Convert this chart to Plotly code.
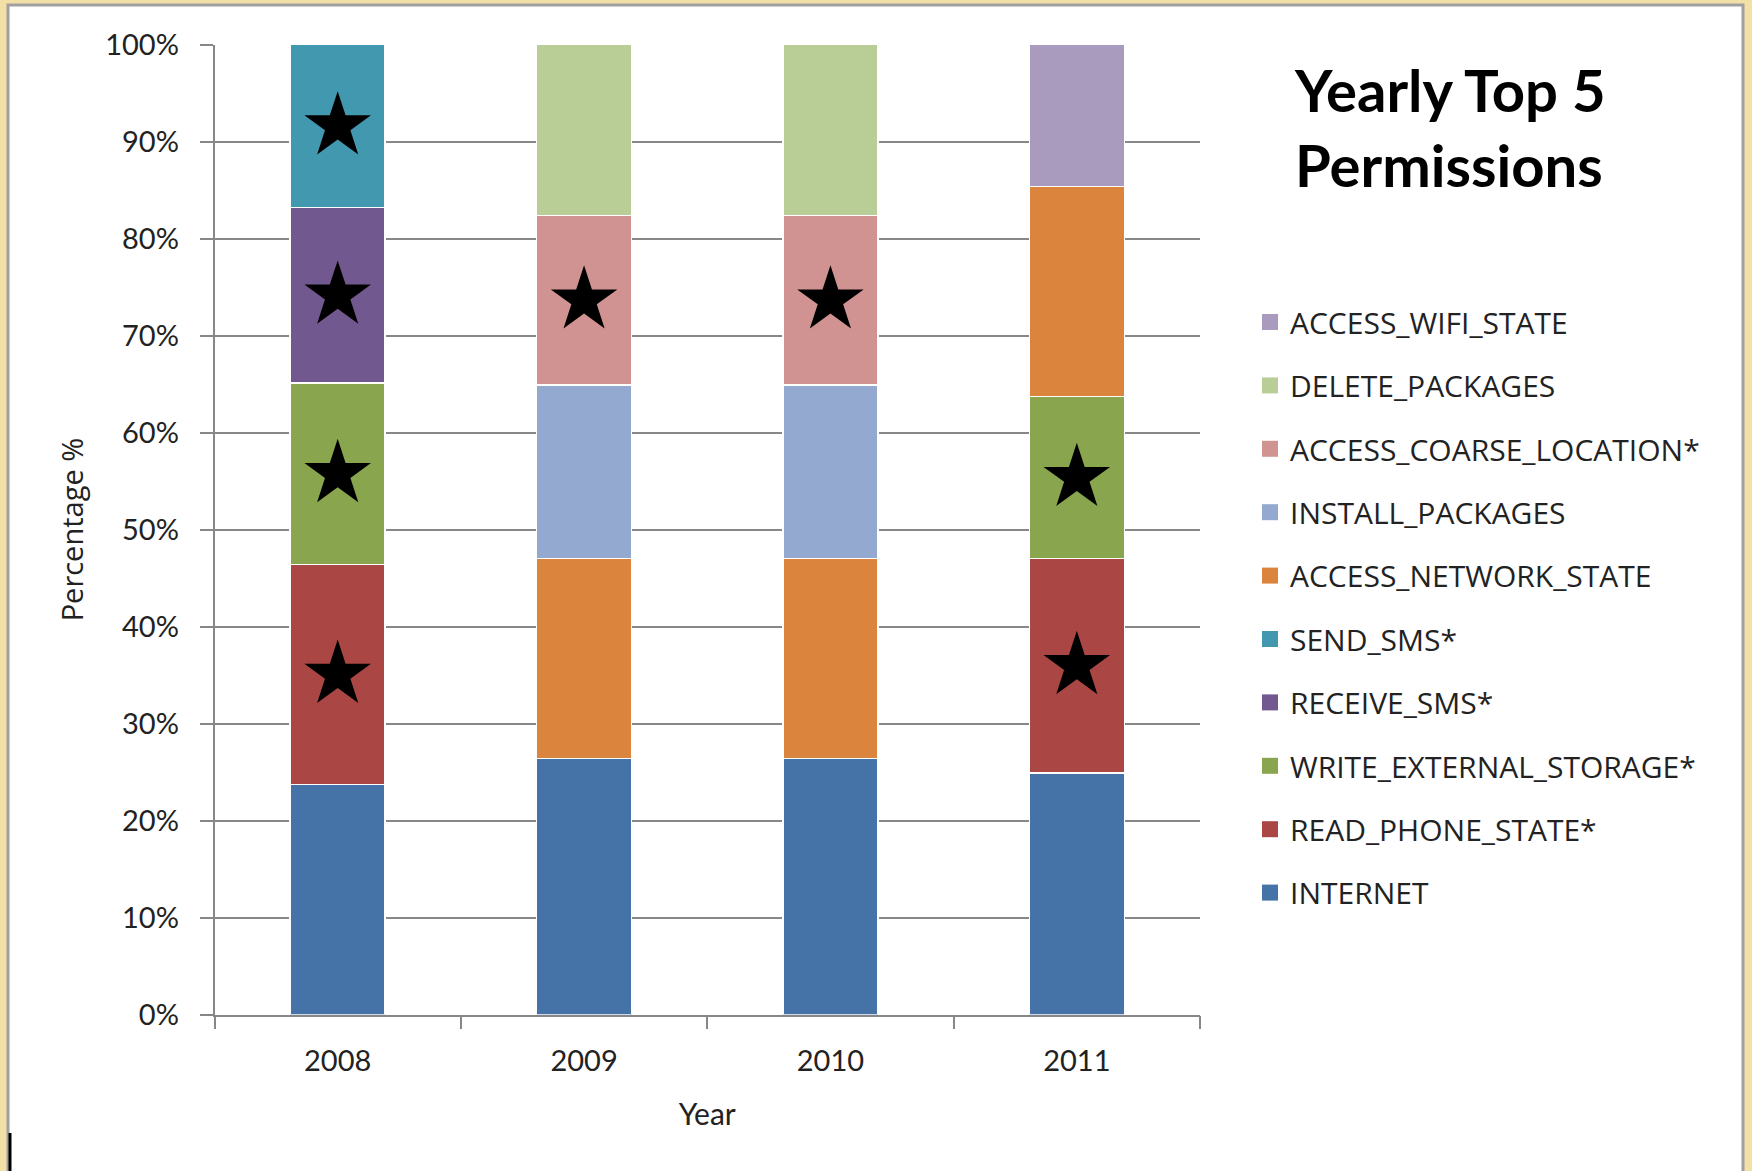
import plotly.graph_objects as go

years = ["2008", "2009", "2010", "2011"]

# Stack order bottom -> top
permissions = [
    "INTERNET",
    "READ_PHONE_STATE*",
    "WRITE_EXTERNAL_STORAGE*",
    "RECEIVE_SMS*",
    "SEND_SMS*",
    "ACCESS_NETWORK_STATE",
    "INSTALL_PACKAGES",
    "ACCESS_COARSE_LOCATION*",
    "DELETE_PACKAGES",
    "ACCESS_WIFI_STATE",
]

internet = [23.7, 26.4, 26.4, 24.9]
read_phone_state = [22.7, 0, 0, 22.1]
write_external_storage = [18.7, 0, 0, 16.7]
receive_sms = [18.1, 0, 0, 0]
send_sms = [16.8, 0, 0, 0]
access_network_state = [0, 20.6, 20.6, 21.7]
install_packages = [0, 17.9, 17.9, 0]
access_coarse_location = [0, 17.5, 17.5, 0]
delete_packages = [0, 17.6, 17.6, 0]
access_wifi_state = [0, 0, 0, 14.6]

series = [internet, read_phone_state, write_external_storage, receive_sms, send_sms,
          access_network_state, install_packages, access_coarse_location,
          delete_packages, access_wifi_state]

colors = ["#4572A7", "#AA4643", "#89A54E", "#71588F", "#4198AF",
          "#DB843D", "#93A9CF", "#D19392", "#B9CD96", "#A99BBD"]

# starred (dangerous) permissions per year
starred = {
    "2008": ["READ_PHONE_STATE*", "WRITE_EXTERNAL_STORAGE*", "RECEIVE_SMS*", "SEND_SMS*"],
    "2009": ["ACCESS_COARSE_LOCATION*"],
    "2010": ["ACCESS_COARSE_LOCATION*"],
    "2011": ["READ_PHONE_STATE*", "WRITE_EXTERNAL_STORAGE*"],
}

FONT = "Lato, 'Open Sans', sans-serif"
LFONT = "'Open Sans', Lato, sans-serif"
TXT = "#222222"
W, H = 1752, 1171

fig = go.Figure()
for name, vals, col in zip(permissions, series, colors):
    fig.add_trace(go.Bar(
        x=years, y=vals, name=name, showlegend=False,
        marker=dict(color=col, line=dict(color="white", width=1.5)),
    ))

# star markers at segment centres
sx, sy = [], []
for j, yr in enumerate(years):
    cum = 0
    for name, vals in zip(permissions, series):
        v = vals[j]
        if name in starred[yr] and v > 0:
            sx.append(yr)
            sy.append(cum + v / 2)
        cum += v
fig.add_trace(go.Scatter(
    x=sx, y=sy, mode="markers", showlegend=False, hoverinfo="skip",
    marker=dict(symbol="star", size=50, color="black", line=dict(width=0)),
))

# legend entries (top of stack first)
for name, col in reversed(list(zip(permissions, colors))):
    fig.add_trace(go.Scatter(
        x=[None], y=[None], mode="markers", name=name, legendgroup=name,
        marker=dict(symbol="square", size=17, color=col, line=dict(width=0)),
    ))

px0, px1 = 214.5, 1200
py0, py1 = 44.7, 1014.5
grid = "#878787"

fig.update_layout(
    width=W, height=H,
    margin=dict(l=0, r=0, t=0, b=0),
    paper_bgcolor="#F3E0A6",
    plot_bgcolor="rgba(0,0,0,0)",
    barmode="stack",
    bargap=0.614,
    font=dict(family=FONT, color=TXT, size=26),
    showlegend=True,
    legend=dict(
        x=1250 / W, y=1 - 296 / H, xanchor="left", yanchor="top",
        traceorder="grouped", tracegroupgap=21.4,
        font=dict(size=30, family=LFONT, color=TXT),
        bgcolor="rgba(0,0,0,0)", itemwidth=30,
    ),
    xaxis=dict(
        domain=[px0 / W, px1 / W],
        type="category", automargin=False,
        showgrid=False,
        showline=True, linecolor=grid, linewidth=1.5,
        ticks="outside", tickson="boundaries", ticklen=13, tickcolor=grid, tickwidth=1.5,
        tickfont=dict(size=29, family=FONT, color=TXT),
        ticklabelstandoff=20,
        title=dict(text="Year", font=dict(size=30, family=FONT, color=TXT), standoff=28),
        zeroline=False,
    ),
    yaxis=dict(
        domain=[1 - py1 / H, 1 - py0 / H], automargin=False,
        range=[0, 100], dtick=10, ticksuffix="%",
        showgrid=True, gridcolor=grid, gridwidth=1.5,
        showline=True, linecolor=grid, linewidth=1.5,
        ticks="outside", ticklen=13, tickcolor=grid, tickwidth=1.5,
        tickfont=dict(size=29, family=FONT, color=TXT),
        ticklabelstandoff=15,
        title=dict(text="Percentage %", font=dict(size=29, family=LFONT, color=TXT), standoff=13),
        zeroline=False,
    ),
    shapes=[
        dict(type="rect", xref="paper", yref="paper", x0=8 / W, x1=1743 / W, y0=-0.05, y1=1 - 5 / H,
             line=dict(color="#A0A0A0", width=3), fillcolor="white", layer="below"),
        dict(type="line", xref="paper", yref="paper", x0=10 / W, x1=10 / W, y0=0, y1=1 - 1133 / H,
             line=dict(color="black", width=3)),
    ],
    annotations=[
        dict(text="<b>Yearly Top 5<br>Permissions</b>", xref="paper", yref="paper",
             x=1450 / W, y=1 - 127 / H, xanchor="center", yanchor="middle", showarrow=False,
             align="left", font=dict(size=58, family=FONT, color="black")),
    ],
)

fig.write_html("out.html")
